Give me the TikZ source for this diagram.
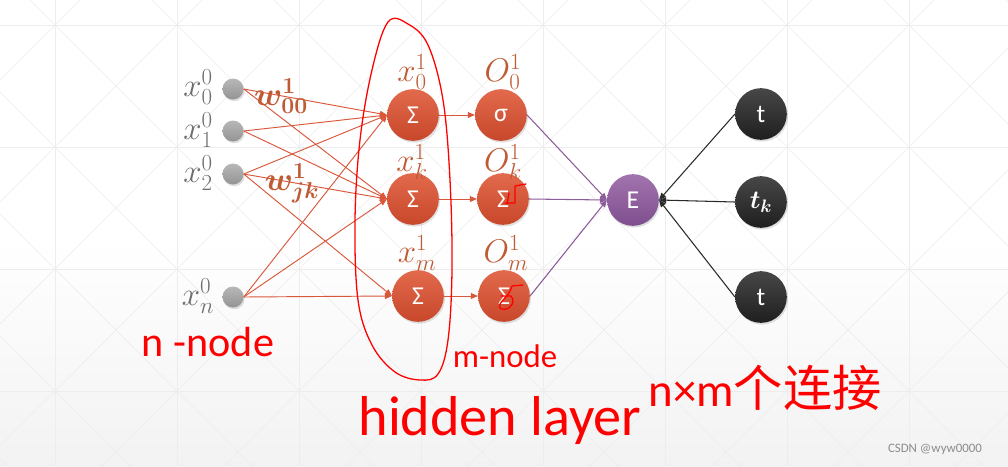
\documentclass[tikz,border=0pt]{standalone}
\usepackage{fix-cm}
\usepackage{bm}
\usepackage{fontspec}
\setsansfont{Carlito}
\newfontfamily\cjk{Noto Sans CJK SC}
\usetikzlibrary{arrows.meta}
\usetikzlibrary{shadows}

\definecolor{ballred}{HTML}{D9573A}
\definecolor{ballredtop}{HTML}{E26A4C}
\definecolor{ballredbot}{HTML}{C8472B}
\definecolor{lblred}{HTML}{BF5A33}
\definecolor{lblgray}{HTML}{6E6E6E}
\definecolor{purp}{HTML}{8C5C9B}
\definecolor{purptop}{HTML}{A274AE}
\definecolor{purpbot}{HTML}{7E4E8E}
\definecolor{darkball}{HTML}{2A2A2A}
\definecolor{inkred}{HTML}{FF0000}

\tikzset{
  gridline/.style={draw=black!7, line width=0.5pt},
  ball/.style={circle, inner sep=0pt, text=white,
    font=\sffamily\fontsize{22}{24}\selectfont,
    drop shadow={opacity=0.25, shadow xshift=1pt, shadow yshift=-1.5pt}},
  inball/.style={ball, minimum size=0.63cm, top color=black!28, bottom color=black!42},
  neuron/.style={ball, minimum size=1.55cm, top color=ballredtop, bottom color=ballredbot},
  errball/.style={ball, minimum size=1.55cm, top color=purptop, bottom color=purpbot},
  tball/.style={ball, minimum size=1.55cm, top color=black!72, bottom color=black!88},
  inlbl/.style={text=lblgray, font=\fontsize{28}{30}\selectfont},
  hidlbl/.style={text=lblred, font=\fontsize{28}{30}\selectfont},
  wire/.style={draw=ballred, line width=0.8pt, -{Triangle[length=6pt,width=5pt]}},
  purpwire/.style={draw=purp, line width=0.9pt, -{Triangle[length=6pt,width=5pt]}},
  darkwire/.style={draw=darkball, line width=0.9pt, -{Triangle[length=6pt,width=5pt]}},
  ink/.style={draw=inkred, line width=1.1pt, line cap=round, line join=round},
  hand/.style={text=inkred, font=\sffamily\fontsize{33}{36}\selectfont}
}

\begin{document}
\begin{tikzpicture}[x=0.03cm, y=-0.03cm]
    \useasboundingbox (0,0) rectangle (1008,466);

    % background
    \begin{scope}
        \clip (0,0) rectangle (1008,466);
        \fill[white] (0,0) rectangle (1008,466);
        \fill[top color=white, bottom color=black!5] (0,240) rectangle (1008,466);
        \foreach \gx in {55,177,...,909}
            \draw[gridline] (\gx,0) -- (\gx,466);
        \foreach \gy in {25,147,269,391}
            \draw[gridline] (0,\gy) -- (1008,\gy);
        \foreach \gx in {-67,55,...,1031}
            \foreach \gy in {-97,25,...,513} {
                \draw[gridline] (\gx,\gy) -- ++(122,122);
                \draw[gridline] (\gx,\gy+122) -- ++(122,-122);
            }
    \end{scope}

    % input layer
    \node[inball] (x0) at (233,89)  {};
    \node[inball] (x1) at (233,131) {};
    \node[inball] (x2) at (233,174) {};
    \node[inball] (xn) at (233,297) {};
    \node[inlbl] (lx0) at (198,87)  {$x^0_0$};
    \node[inlbl] (lx1) at (198,130) {$x^0_1$};
    \node[inlbl] (lx2) at (198,173) {$x^0_2$};
    \node[inlbl] (lxn) at (198,296) {$x^0_n$};

    % hidden layer
    \node[neuron] (s0) at (413,115) {Σ};
    \node[neuron] (sk) at (413,199) {Σ};
    \node[neuron] (sm) at (418,296) {Σ};
    \node[neuron] (o0) at (501,115) {σ};
    \node[neuron] (ok) at (503,199) {Σ};
    \node[neuron] (om) at (504,296) {Σ};
    \node[hidlbl] (ls0) at (412,72)  {$x^1_0$};
    \node[hidlbl] (lsk) at (412,162) {$x^1_k$};
    \node[hidlbl] (lsm) at (417,253) {$x^1_m$};
    \node[hidlbl] (lo0) at (503,72)  {$O^1_0$};
    \node[hidlbl] (lok) at (503,162) {$O^1_k$};
    \node[hidlbl] (lom) at (506,253) {$O^1_m$};

    % error and targets
    \node[errball] (E)  at (633,200) {E};
    \node[tball]   (t1) at (761,114) {t};
    \node[tball]   (tk) at (761,202) {$\bm{t_k}$};
    \node[tball]   (t2) at (761,297) {t};

    % weights
    \foreach \a/\b in {x0/s0, x0/sk, x1/s0, x1/sk, x2/s0, x2/sk, x2/sm, xn/s0, xn/sk, xn/sm}
        \draw[wire] (\a.east) -- (\b.west);
    \node[hidlbl] (w00) at (281,96)  {$\bm{w^1_{00}}$};
    \node[hidlbl] (wjk) at (292,183) {$\bm{w^1_{jk}}$};

    \foreach \a/\b in {s0/o0, sk/ok, sm/om}
        \draw[wire] (\a.east) -- (\b.west);
    \foreach \a in {o0, ok, om}
        \draw[purpwire] (\a.east) -- (E.west);
    \foreach \a in {t1, tk, t2}
        \draw[darkwire] (\a.west) -- (E.east);

    % red pen notes
    \draw[ink] plot[smooth cycle, tension=0.6] coordinates {(388,22) (372,70) (360,140) (355,220)
        (358,300) (372,345) (395,372) (420,380) (438,374) (448,340) (452,270) (450,180)
        (443,100) (428,45) (408,24)};
    \draw[ink] (505,203) -- (515,203) -- (515,186) -- (526,184);
    \draw[ink] (509,193) -- (507,204);
    \draw[ink] (523,285) -- (512,286) .. controls (509,298) and (497,302) .. (500,308)
        .. controls (505,313) and (518,304) .. (511,296) -- (501,296);
    \node[hand, font=\sffamily\fontsize{36}{40}\selectfont] (nnode) at (208,342) {n -node};
    \node[hand, font=\sffamily\fontsize{28}{32}\selectfont] (mnode) at (505,356) {m-node};
    \node[hand, font=\sffamily\fontsize{48}{52}\selectfont] (hid) at (500,420) {hidden layer};
    \node[hand, font=\sffamily\fontsize{40}{44}\selectfont] (conn) at (765,388)
        {n×m{\cjk\fontsize{42}{46}\selectfont 个连接}};

    \node[text=black!45, font=\sffamily\fontsize{11}{13}\selectfont] (mark) at (935,449) {CSDN @wyw0000};
\end{tikzpicture}
\end{document}
